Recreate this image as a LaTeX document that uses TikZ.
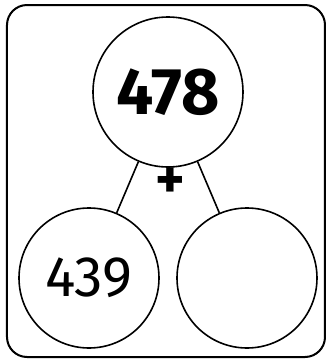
\documentclass[tikz,border=0pt]{standalone}
\usepackage{fontspec}
\setmainfont{Fira Sans}
\usetikzlibrary{positioning}

\begin{document}
\begin{tikzpicture}[x=1pt, y=-1pt, level distance=186pt, sibling distance=158pt,
    every node/.style={circle, draw, line width=1.6pt, inner sep=0pt},
    edge from parent/.style={draw, line width=1.6pt}]
    \useasboundingbox (0,0) rectangle (327,360);
    \draw[line width=2pt, rounded corners=20pt] (7,5) rectangle (325,357);
    \node (whole) at (168,92) [minimum size=150pt, font=\fontsize{66}{66}\selectfont\bfseries] {478}
        child {node (part1) [minimum size=140pt, font=\fontsize{57}{57}\selectfont] {439}}
        child {node (part2) [minimum size=140pt] {}};
    \node (plus) at (170,183) [draw=none, font=\fontsize{56}{56}\selectfont\bfseries] {+};
\end{tikzpicture}
\end{document}
